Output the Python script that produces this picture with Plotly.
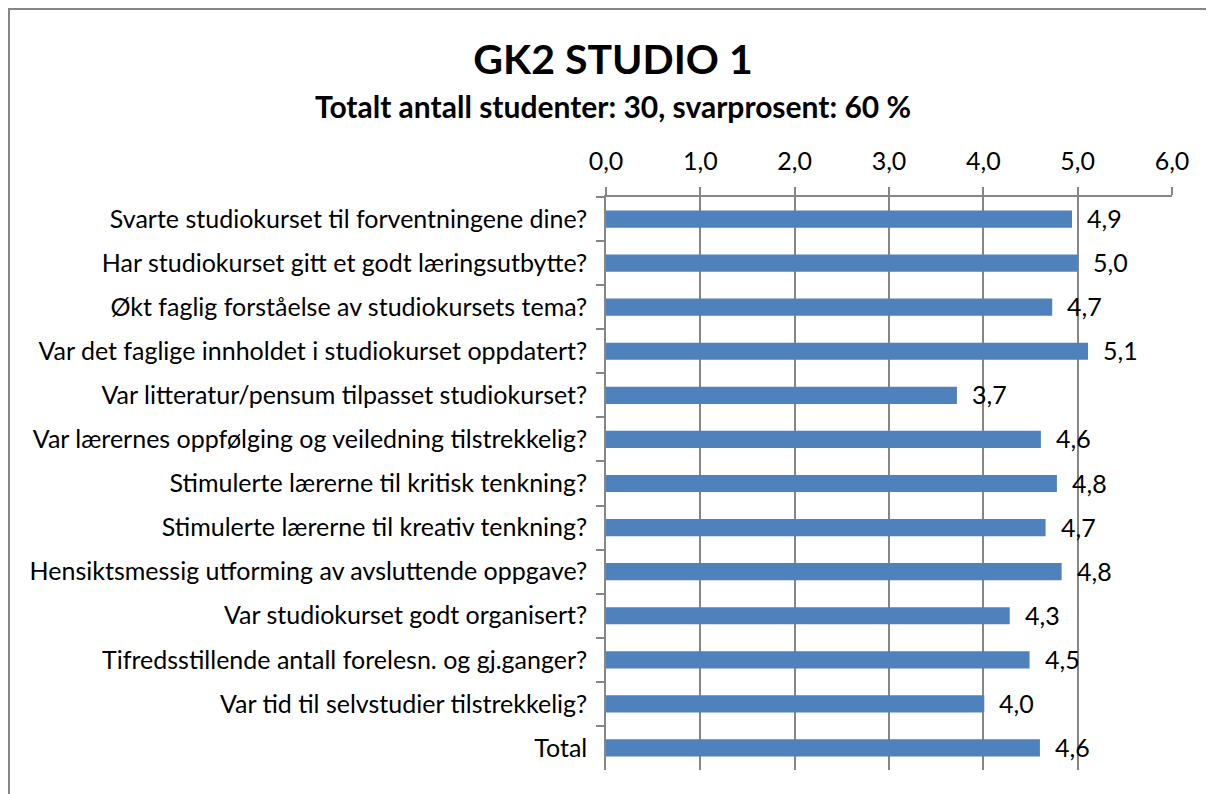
import plotly.graph_objects as go

questions = [
    "Svarte studiokurset til forventningene dine?",
    "Har studiokurset gitt et godt læringsutbytte?",
    "Økt faglig forståelse av studiokursets tema?",
    "Var det faglige innholdet i studiokurset oppdatert?",
    "Var litteratur/pensum tilpasset studiokurset?",
    "Var lærernes oppfølging og veiledning tilstrekkelig?",
    "Stimulerte lærerne til kritisk tenkning?",
    "Stimulerte lærerne til kreativ tenkning?",
    "Hensiktsmessig utforming av avsluttende oppgave?",
    "Var studiokurset godt organisert?",
    "Tifredsstillende antall forelesn. og gj.ganger?",
    "Var tid til selvstudier tilstrekkelig?",
    "Total",
]
scores = [4.94, 5.00, 4.73, 5.11, 3.72, 4.61, 4.78, 4.66, 4.83, 4.28, 4.49, 4.01, 4.60]
x_ticks = [0, 1, 2, 3, 4, 5, 6]

FONT = "Lato"
GREY = "#868686"
BLUE = "#4F81BD"

# page has an 8px body margin, so the figure is a bit smaller than the window
OFF = 8
W, H = 1214 - OFF, 794 - OFF
L, T = 606 - OFF, 197 - OFF
R, B = W - (1172 - OFF), H - (770 - OFF)
pw, ph = W - L - R, H - T - B


def px_x(x):
    # page pixel -> paper coordinate
    return (x - OFF - L) / pw


def px_y(y):
    return 1 - (y - OFF - T) / ph


fig = go.Figure(go.Bar(
    x=scores,
    y=questions,
    orientation="h",
    marker=dict(color=BLUE, line=dict(width=0)),
    hoverinfo="x+y",
))

# value labels at the end of each bar
for q, v in zip(questions, scores):
    fig.add_annotation(
        x=v, y=q, xref="x", yref="y",
        text=f"{v:.1f}".replace(".", ","),
        showarrow=False, xanchor="left", yanchor="middle",
        xshift=13, yshift=1,
        font=dict(family=FONT, size=25, color="black"),
    )

fig.add_annotation(
    x=px_x(613), y=px_y(106), xref="paper", yref="paper",
    text="<b>Totalt antall studenter: 30, svarprosent: 60 %</b>",
    showarrow=False, xanchor="center", yanchor="middle",
    font=dict(family=FONT, size=30, color="black"),
)

# chart frame (right and bottom edges fall outside the picture)
fig.add_shape(
    type="rect", xref="paper", yref="paper",
    x0=px_x(9), x1=px_x(1300), y0=px_y(900), y1=px_y(9),
    line=dict(color=GREY, width=2), layer="below",
)

fig.update_layout(
    width=W, height=H,
    margin=dict(l=L, r=R, t=T, b=B),
    paper_bgcolor="white",
    plot_bgcolor="white",
    separators=",.",
    showlegend=False,
    bargap=0.61,
    title=dict(
        text="<b>GK2 STUDIO 1</b>",
        xref="container", yref="container",
        x=(613 - OFF) / W, y=1 - (60 - OFF) / H, xanchor="center", yanchor="middle",
        font=dict(family=FONT, size=41, color="black"),
    ),
    xaxis=dict(
        side="top",
        range=[0, 6],
        tickvals=x_ticks,
        tickformat=".1f",
        showgrid=True, gridcolor=GREY, gridwidth=1.5,
        zeroline=False,
        showline=True, linecolor=GREY, linewidth=1.5,
        ticks="outside", ticklen=8, tickcolor=GREY, tickwidth=1.5,
        ticklabelstandoff=7,
        tickfont=dict(family=FONT, size=25, color="black"),
        fixedrange=True,
    ),
    yaxis=dict(
        autorange="reversed",
        showline=True, linecolor=GREY, linewidth=1.5,
        ticks="outside", ticklen=8, tickcolor=GREY, tickwidth=1.5,
        tickson="boundaries",
        ticklabelstandoff=12,
        showgrid=False,
        tickfont=dict(family=FONT, size=25, color="black"),
        fixedrange=True,
    ),
)

fig.write_html("out.html")
